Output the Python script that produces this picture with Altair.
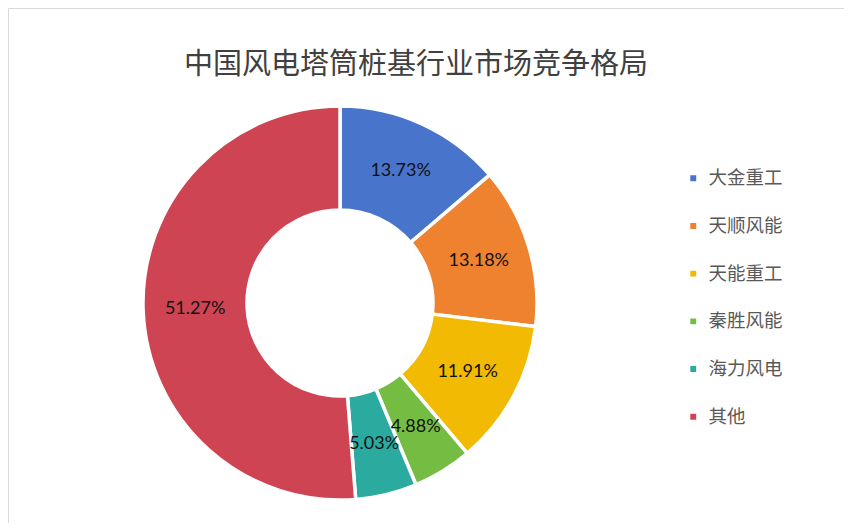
import altair as alt
import pandas as pd

companies = ["大金重工", "天顺风能", "天能重工", "秦胜风能", "海力风电", "其他"]
shares = [13.73, 13.18, 11.91, 4.88, 5.03, 51.27]
labels = ["13.73%", "13.18%", "11.91%", "4.88%", "5.03%", "51.27%"]
colors = ["#4874CB", "#EE822F", "#F2BA02", "#75BD42", "#2BAAA0", "#CE4453"]
title_text = "中国风电塔筒桩基行业市场竞争格局"

df = pd.DataFrame({
    "company": companies,
    "share": shares,
    "label": labels,
    "order": list(range(len(companies))),
})

CX, CY = 332, 295

base = alt.Chart(df).encode(
    theta=alt.Theta("share:Q", stack=True),
    order=alt.Order("order:Q"),
)

arcs = base.mark_arc(
    innerRadius=93, outerRadius=197, stroke="white", strokeWidth=3.5
).encode(
    x=alt.value(CX),
    y=alt.value(CY),
    color=alt.Color(
        "company:N",
        scale=alt.Scale(domain=companies, range=colors),
        legend=alt.Legend(
            title=None,
            orient="none",
            legendX=676,
            legendY=161,
            symbolType="square",
            symbolSize=55,
            labelFont="Noto Sans CJK SC",
            labelFontSize=18.5,
            labelColor="#595959",
            rowPadding=28.7,
            labelOffset=6,
        ),
    ),
)

texts = base.mark_text(
    radius=145, font="Lato", fontSize=18, color="#111111"
).encode(
    x=alt.value(CX),
    y=alt.value(CY),
    text="label:N",
)

chart = (
    alt.layer(arcs, texts)
    .properties(
        width=836,
        height=515,
        padding=0,
        autosize=alt.AutoSizeParams(type="none"),
        title=alt.TitleParams(
            text=title_text,
            font="Noto Sans CJK SC",
            fontSize=29,
            fontWeight="normal",
            color="#404040",
            anchor="middle",
            baseline="middle",
            offset=0,
            dx=-10,
            dy=86,
        ),
    )
    .configure_view(stroke="#D9D9D9", strokeWidth=1)
)

chart.save("out.html", embed_options={"renderer": "svg", "actions": False})
